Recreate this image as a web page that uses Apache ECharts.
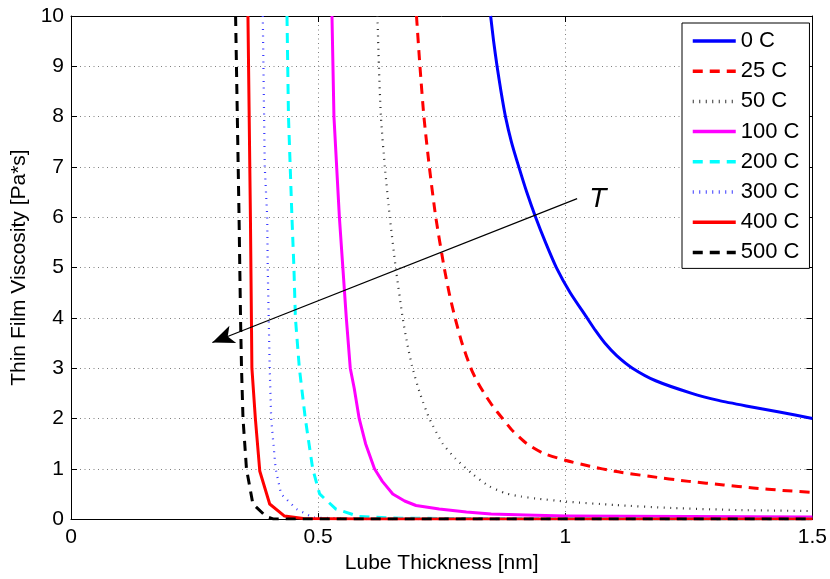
<!DOCTYPE html>
<html>
<head>
<meta charset="utf-8">
<script src="https://cdn.jsdelivr.net/npm/echarts@6/dist/echarts.min.js"></script>
<style>
html,body{margin:0;padding:0;background:#fff;}
#chart{width:830px;height:579px;}
</style>
</head>
<body>
<div id="chart"></div>
<script>
// ---- data ----
const seriesNames = ['0 C', '25 C', '50 C', '100 C', '200 C', '300 C', '400 C', '500 C'];

const thickness0C = [0.849, 0.855, 0.862, 0.870, 0.879, 0.891, 0.906, 0.922, 0.940, 0.960, 0.982, 1.010, 1.044, 1.061, 1.080, 1.104, 1.136, 1.183, 1.256, 1.310, 1.366, 1.433, 1.5];
const viscosity0C = [10, 9.5, 9, 8.5, 8, 7.5, 7, 6.5, 6, 5.5, 5, 4.5, 4, 3.75, 3.5, 3.25, 3, 2.75, 2.5, 2.36, 2.25, 2.13, 2.0];

const thickness25C = [0.699, 0.706, 0.714, 0.725, 0.738, 0.755, 0.765, 0.777, 0.791, 0.809, 0.821, 0.836, 0.853, 0.873, 0.894, 0.922, 0.955, 1.0, 1.05, 1.1, 1.17, 1.25, 1.32, 1.38, 1.44, 1.5];
const viscosity25C = [10, 9, 8, 7, 6, 5, 4.5, 4, 3.5, 3, 2.75, 2.5, 2.25, 2, 1.75, 1.5, 1.31, 1.17, 1.05, 0.95, 0.85, 0.75, 0.68, 0.62, 0.57, 0.53];

const thickness50C = [0.620, 0.623, 0.627, 0.635, 0.645, 0.657, 0.671, 0.680, 0.691, 0.706, 0.725, 0.752, 0.778, 0.812, 0.845, 0.880, 0.91, 0.94, 1.0, 1.1, 1.216, 1.35, 1.5];
const viscosity50C = [10, 9, 8, 7, 6, 5, 4, 3.5, 3, 2.5, 2, 1.5, 1.2, 0.9, 0.66, 0.51, 0.45, 0.41, 0.35, 0.28, 0.22, 0.18, 0.16];

const thickness100C = [0.528, 0.532, 0.543, 0.550, 0.557, 0.565, 0.573, 0.583, 0.596, 0.614, 0.630, 0.651, 0.675, 0.698, 0.745, 0.8, 0.85, 0.92, 1.0, 1.25, 1.5];
const viscosity100C = [10, 8, 6, 5, 4, 3, 2.6, 2, 1.5, 1, 0.75, 0.5, 0.36, 0.27, 0.2, 0.14, 0.1, 0.08, 0.06, 0.05, 0.04];

const thickness200C = [0.437, 0.440, 0.447, 0.451, 0.454, 0.462, 0.474, 0.489, 0.503, 0.536, 0.583, 0.65, 0.8, 1.5];
const viscosity200C = [10, 8, 6, 5, 4, 3, 2, 1, 0.5, 0.2, 0.05, 0.02, 0.01, 0.0];

const thickness300C = [0.388, 0.392, 0.397, 0.398, 0.400, 0.402, 0.405, 0.414, 0.425, 0.456, 0.49, 0.6, 1.5];
const viscosity300C = [10, 7, 6, 5, 4, 3, 2, 1, 0.5, 0.2, 0.03, 0, 0];

const thickness400C = [0.358, 0.363, 0.365, 0.366, 0.373, 0.382, 0.402, 0.432, 0.47, 0.6, 1.5];
const viscosity400C = [10, 6, 4, 3, 2, 0.95, 0.3, 0.06, 0.01, 0, 0];

const thickness500C = [0.333, 0.340, 0.343, 0.345, 0.348, 0.355, 0.368, 0.395, 0.41, 0.6, 1.5];
const viscosity500C = [10, 6, 4, 3, 2, 1, 0.3, 0.05, 0, 0, 0];

const xTicks = [0, 0.5, 1, 1.5];
const yTicks = [0, 1, 2, 3, 4, 5, 6, 7, 8, 9, 10];

// annotation (arrow and "T") in data coordinates
const arrowStart = [1.024, 6.37];
const arrowEnd = [0.286, 3.51];
const labelT = [1.066, 6.35];

// ---- build ----
const FONT = "'Liberation Sans', Arial, Helvetica, sans-serif";
const zip = (xs, ys) => xs.map((x, i) => [x, ys[i]]);

const styles = [
  { color: '#0000ff', width: 3, type: 'solid', smooth: 0.2 },
  { color: '#ff0000', width: 3, type: [10, 7], smooth: 0.2 },
  { color: '#333333', width: 2.2, type: [1, 5.5], smooth: 0.2 },
  { color: '#ff00ff', width: 3, type: 'solid', smooth: false },
  { color: '#00ffff', width: 3, type: [10, 7], smooth: false },
  { color: '#3a3aff', width: 2.2, type: [1, 5.5], smooth: false },
  { color: '#ff0000', width: 3, type: 'solid', smooth: false },
  { color: '#000000', width: 3, type: [10, 7], smooth: false }
];
const dataSets = [
  zip(thickness0C, viscosity0C),
  zip(thickness25C, viscosity25C),
  zip(thickness50C, viscosity50C),
  zip(thickness100C, viscosity100C),
  zip(thickness200C, viscosity200C),
  zip(thickness300C, viscosity300C),
  zip(thickness400C, viscosity400C),
  zip(thickness500C, viscosity500C)
];

const series = seriesNames.map((name, i) => ({
  name: name,
  type: 'line',
  data: dataSets[i],
  symbol: 'none',
  showSymbol: false,
  smooth: styles[i].smooth,
  clip: true,
  color: styles[i].color,
  lineStyle: { color: styles[i].color, width: styles[i].width, type: styles[i].type, cap: 'butt', join: 'round' },
  silent: true,
  animation: false
}));

series[series.length - 1].markLine = {
  silent: true,
  animation: false,
  symbol: ['none', 'arrow'],
  symbolSize: [14, 22],
  lineStyle: { color: '#000', width: 1.2, type: 'solid' },
  itemStyle: { color: '#000' },
  label: { show: false },
  data: [[{ coord: arrowStart }, { coord: arrowEnd }]]
};
series[series.length - 1].markPoint = {
  silent: true,
  animation: false,
  symbol: 'circle',
  symbolSize: 1,
  itemStyle: { color: 'rgba(0,0,0,0)' },
  label: {
    show: true, position: 'inside', formatter: 'T',
    fontSize: 28, fontStyle: 'italic', fontFamily: FONT, color: '#000'
  },
  data: [{ coord: labelT }]
};

const gridLine = { show: true, lineStyle: { color: '#808080', width: 1, type: [1, 3.5] } };
const axisLineBlack = { show: true, onZero: false, lineStyle: { color: '#000', width: 1 } };
const tickIn = { show: true, inside: true, length: 6, lineStyle: { color: '#000', width: 1 } };

const chart = echarts.init(document.getElementById('chart'), null, { renderer: 'canvas' });
chart.setOption({
  animation: false,
  backgroundColor: '#fff',
  textStyle: { fontFamily: FONT },
  grid: { left: 71, right: 16, top: 16, bottom: 56, containLabel: false },
  legend: {
    orient: 'vertical',
    left: 682, top: 23,
    padding: [7, 10, 5, 9],
    itemWidth: 43, itemHeight: 14, itemGap: 8.2,
    backgroundColor: '#fff',
    borderColor: '#000', borderWidth: 1, borderRadius: 0,
    itemStyle: { opacity: 0 },
    lineStyle: { width: 3.5 },
    textStyle: { fontSize: 22, color: '#000', fontFamily: FONT, lineHeight: 20 },
    data: seriesNames
  },
  xAxis: [
    {
      type: 'value', min: xTicks[0], max: xTicks[xTicks.length - 1], interval: xTicks[1] - xTicks[0],
      position: 'bottom',
      name: 'Lube Thickness [nm]', nameLocation: 'middle', nameGap: 31,
      nameTextStyle: { fontSize: 21, color: '#000', fontFamily: FONT },
      axisLine: axisLineBlack, axisTick: tickIn,
      axisLabel: { fontSize: 21, color: '#000', margin: 8, fontFamily: FONT },
      splitLine: gridLine
    },
    {
      type: 'value', min: xTicks[0], max: xTicks[xTicks.length - 1], interval: xTicks[1] - xTicks[0],
      position: 'top',
      axisLine: axisLineBlack, axisTick: tickIn,
      axisLabel: { show: false }, splitLine: { show: false }
    }
  ],
  yAxis: [
    {
      type: 'value', min: yTicks[0], max: yTicks[yTicks.length - 1], interval: yTicks[1] - yTicks[0],
      position: 'left',
      name: 'Thin Film Viscosity [Pa*s]', nameLocation: 'middle', nameGap: 38,
      nameTextStyle: { fontSize: 21, color: '#000', fontFamily: FONT },
      axisLine: axisLineBlack, axisTick: tickIn,
      axisLabel: { fontSize: 21, color: '#000', margin: 7, fontFamily: FONT },
      splitLine: gridLine
    },
    {
      type: 'value', min: yTicks[0], max: yTicks[yTicks.length - 1], interval: yTicks[1] - yTicks[0],
      position: 'right',
      axisLine: axisLineBlack, axisTick: tickIn,
      axisLabel: { show: false }, splitLine: { show: false }
    }
  ],
  series: series
});
</script>
</body>
</html>
